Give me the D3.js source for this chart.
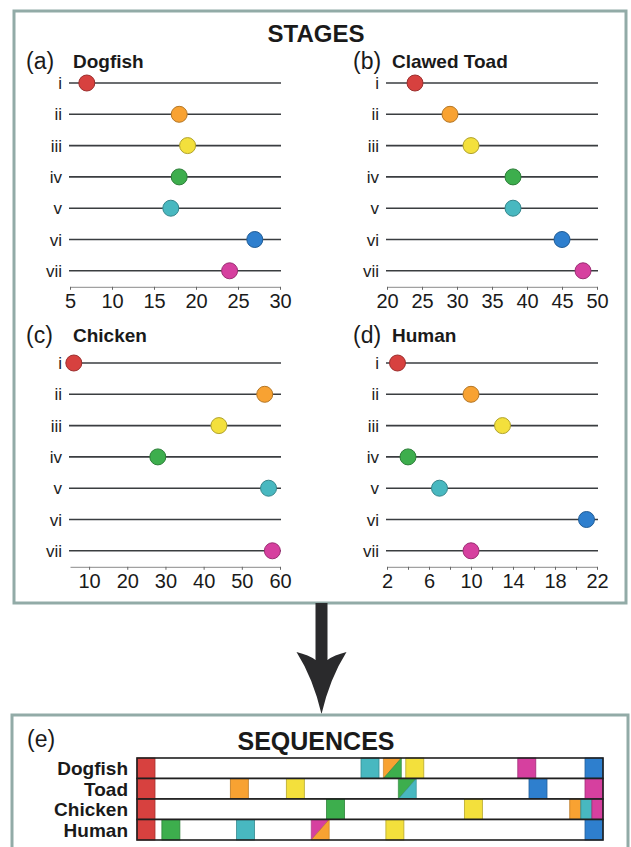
<!DOCTYPE html>
<html>
<head>
<meta charset="utf-8">
<script src="https://cdn.jsdelivr.net/npm/d3@7"></script>
<style>
  html, body { margin: 0; padding: 0; background: #fff; }
  svg { display: block; font-family: "Liberation Sans", Arial, Helvetica, sans-serif; }
</style>
</head>
<body>
<svg id="chart" width="631" height="847"></svg>
<script>
// ---------------- DATA ----------------
const stages = ["i", "ii", "iii", "iv", "v", "vi", "vii"];
const stageColors = ["#d7413f", "#f8a232", "#f3e03c", "#3dae4d", "#48b8c0", "#2e7fce", "#d6409f"];

const dogfishStages = [7, 18, 19, 18, 17, 27, 24];
const toadStages = [24, 29, 32, 38, 38, 45, 48];
const chickenStages = [6, 56, 44, 28, 57, null, 58];
const humanStages = [3, 10, 13, 4, 7, 21, 10];

const dogfishDomain = [5, 30];
const toadDomain = [20, 50];
const chickenDomain = [5, 60];
const humanDomain = [2, 22];

const dogfishTicks = [5, 10, 15, 20, 25, 30];
const toadTicks = [20, 25, 30, 35, 40, 45, 50];
const chickenTicks = [10, 20, 30, 40, 50, 60];
const humanTicks = [2, 6, 10, 14, 18, 22];
const humanMinorTicks = [4, 8, 12, 16, 20];

const panelLetters = ["(a)", "(b)", "(c)", "(d)"];
const panelNames = ["Dogfish", "Clawed Toad", "Chicken", "Human"];

const sequenceNames = ["Dogfish", "Toad", "Chicken", "Human"];
// for tied stages: which stage takes the upper-left triangle
const tieOrderDogfish = ["ii", "iv"];
const tieOrderToad = ["iv", "v"];
const tieOrderChicken = [];
const tieOrderHuman = ["vii", "ii"];

// ---------------- DRAW ----------------
const svg = d3.select("#chart");
const borderColor = "#92aba7";
const FONT = '"Liberation Sans", Arial, Helvetica, sans-serif';

// top box
svg.append("rect").attr("x", 14).attr("y", 11).attr("width", 612).attr("height", 592)
  .attr("fill", "#fff").attr("stroke", borderColor).attr("stroke-width", 3);

svg.append("text").attr("x", 316).attr("y", 42).attr("text-anchor", "middle")
  .attr("font-size", 24).attr("font-weight", "bold").attr("fill", "#1a1a1a").text("STAGES");

const panels = [
  { vals: dogfishStages, domain: dogfishDomain, ticks: dogfishTicks, minor: [], x0: 70, x1: 280, y0: 83, letterX: 26, nameX: 73, titleY: 68 },
  { vals: toadStages, domain: toadDomain, ticks: toadTicks, minor: [], x0: 387, x1: 597, y0: 83, letterX: 353, nameX: 392, titleY: 68 },
  { vals: chickenStages, domain: chickenDomain, ticks: chickenTicks, minor: [], x0: 70, x1: 280, y0: 363, letterX: 26, nameX: 73, titleY: 342 },
  { vals: humanStages, domain: humanDomain, ticks: humanTicks, minor: humanMinorTicks, x0: 387, x1: 597, y0: 363, letterX: 353, nameX: 392, titleY: 342 }
];

panels.forEach((p, pi) => {
  const g = svg.append("g");
  const x = d3.scaleLinear().domain(p.domain).range([p.x0, p.x1]);
  const y = d3.scalePoint().domain(stages).range([p.y0, p.y0 + 6 * 31.3]);

  g.append("text").attr("x", p.letterX).attr("y", p.titleY + 1)
    .attr("font-size", 23).attr("fill", "#1a1a1a").text(panelLetters[pi]);
  g.append("text").attr("x", p.nameX).attr("y", p.titleY)
    .attr("font-size", 19).attr("font-weight", "bold").attr("fill", "#1a1a1a").text(panelNames[pi]);

  // row lines
  g.selectAll("line.row").data(stages).join("line")
    .attr("x1", p.x0 - 1).attr("x2", p.x1 + 1)
    .attr("y1", d => y(d)).attr("y2", d => y(d))
    .attr("stroke", "#3a3d40").attr("stroke-width", 1.6);

  // row labels
  g.selectAll("text.row").data(stages).join("text")
    .attr("x", p.x0 - 8).attr("y", d => y(d) + 6)
    .attr("text-anchor", "end").attr("font-size", 17).attr("fill", "#222").text(d => d);

  // axis
  const axisY = y("vii") + 16;
  const ax = g.append("g").attr("transform", `translate(0,${axisY})`)
    .call(d3.axisBottom(x).tickValues(p.ticks).tickSize(3).tickSizeOuter(0).tickPadding(4));
  ax.select(".domain").attr("stroke", "#8a8a8a").attr("stroke-width", 1);
  ax.selectAll(".tick line").attr("stroke", "#666");
  ax.selectAll(".tick text").attr("font-size", 20).attr("font-family", FONT).attr("fill", "#1a1a1a");
  if (p.minor.length) {
    const mx = g.append("g").attr("transform", `translate(0,${axisY})`)
      .call(d3.axisBottom(x).tickValues(p.minor).tickSize(3).tickSizeOuter(0).tickFormat(""));
    mx.select(".domain").remove();
    mx.selectAll(".tick line").attr("stroke", "#666");
  }

  // points
  const pts = stages.map((s, i) => ({ s, v: p.vals[i], c: stageColors[i] })).filter(d => d.v != null);
  g.selectAll("circle").data(pts).join("circle")
    .attr("cx", d => x(d.v)).attr("cy", d => y(d.s)).attr("r", 8)
    .attr("fill", d => d.c).attr("stroke", d => d3.color(d.c).darker(0.9)).attr("stroke-width", 1);
});

// arrow
const arrow = svg.append("g").attr("fill", "#2a2a2c");
arrow.append("rect").attr("x", 315.5).attr("y", 603).attr("width", 12).attr("height", 58);
arrow.append("path").attr("d",
  "M296.5,652 Q309,655 315.5,660 L327.5,660 Q334,655 346.5,652 Q330,678 321.5,714 Q313,678 296.5,652 Z");

// bottom box
svg.append("rect").attr("x", 12).attr("y", 715).attr("width", 616).attr("height", 170)
  .attr("fill", "#fff").attr("stroke", borderColor).attr("stroke-width", 3);

svg.append("text").attr("x", 27).attr("y", 747).attr("font-size", 23).attr("fill", "#1a1a1a").text("(e)");
svg.append("text").attr("x", 316).attr("y", 750).attr("text-anchor", "middle")
  .attr("font-size", 25).attr("font-weight", "bold").attr("fill", "#1a1a1a").text("SEQUENCES");

// sequences
const seqData = [
  { vals: dogfishStages, tie: tieOrderDogfish },
  { vals: toadStages, tie: tieOrderToad },
  { vals: chickenStages, tie: tieOrderChicken },
  { vals: humanStages, tie: tieOrderHuman }
];
const barX0 = 137, barX1 = 603, barY0 = 758, barY1 = 840;
const blockW = 18;
const rowY = d3.scaleBand().domain(sequenceNames).range([barY0, barY1]).padding(0);
const rh = rowY.bandwidth();
const frac = d3.scaleLinear().domain([0, 1]).range([barX0, barX1 - blockW]);

const seqG = svg.append("g");
seqData.forEach((sd, ri) => {
  const name = sequenceNames[ri];
  const ry = rowY(name);
  const items = stages.map((s, i) => ({ s, v: sd.vals[i], c: stageColors[i] })).filter(d => d.v != null);
  const ext = d3.extent(items, d => d.v);
  // group by value
  const groups = d3.groups(items, d => d.v).sort((a, b) => a[0] - b[0])
    .map(([v, arr]) => {
      arr.sort((a, b) => {
        const ia = sd.tie.indexOf(a.s), ib = sd.tie.indexOf(b.s);
        return (ia < 0 ? 99 : ia) - (ib < 0 ? 99 : ib);
      });
      return { v, arr, x: frac((v - ext[0]) / (ext[1] - ext[0])), w: blockW };
    });
  // clusters of overlapping blocks share the available span
  let clusters = [];
  groups.forEach(gr => {
    const last = clusters[clusters.length - 1];
    if (last && gr.x - last[last.length - 1].x < blockW) last.push(gr); else clusters.push([gr]);
  });
  clusters.forEach(cl => {
    if (cl.length > 1) {
      const start = cl[0].x + 2, end = cl[cl.length - 1].x + blockW, w = (end - start) / cl.length;
      cl.forEach((gr, k) => { gr.x = start + k * w; gr.w = w; });
    }
  });

  seqG.append("rect").attr("x", barX0).attr("y", ry).attr("width", barX1 - barX0).attr("height", rh)
    .attr("fill", "#fff");

  groups.forEach(gr => {
    const x0 = gr.x, x1 = gr.x + gr.w, y0 = ry, y1 = ry + rh;
    if (gr.arr.length === 1) {
      const c = gr.arr[0].c;
      seqG.append("rect").attr("x", x0).attr("y", y0).attr("width", x1 - x0).attr("height", rh)
        .attr("fill", c).attr("stroke", d3.color(c).darker(0.8)).attr("stroke-width", 0.8);
    } else {
      const a = gr.arr[0].c, b = gr.arr[1].c;
      seqG.append("path").attr("d", `M${x0},${y0}L${x1},${y0}L${x0},${y1}Z`)
        .attr("fill", a).attr("stroke", d3.color(a).darker(0.8)).attr("stroke-width", 0.6);
      seqG.append("path").attr("d", `M${x1},${y0}L${x1},${y1}L${x0},${y1}Z`)
        .attr("fill", b).attr("stroke", d3.color(b).darker(0.8)).attr("stroke-width", 0.6);
    }
  });

  seqG.append("rect").attr("x", barX0).attr("y", ry).attr("width", barX1 - barX0).attr("height", rh)
    .attr("fill", "none").attr("stroke", "#1f1f1f").attr("stroke-width", 1.6);

  seqG.append("text").attr("x", 128).attr("y", ry + rh / 2 + 7)
    .attr("text-anchor", "end").attr("font-size", 19).attr("font-weight", "bold")
    .attr("fill", "#1a1a1a").text(name);
});
</script>
</body>
</html>
